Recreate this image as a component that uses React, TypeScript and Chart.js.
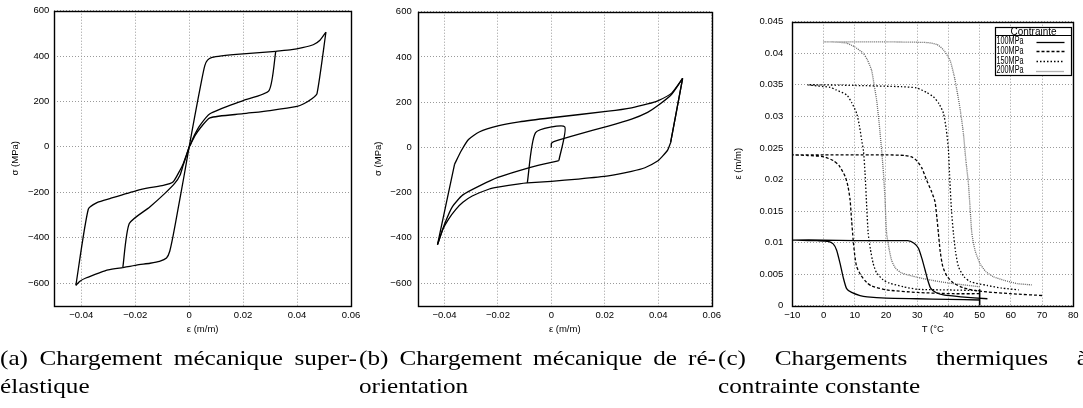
import React, { useEffect, useRef } from "react";
import { Chart, registerables } from "chart.js";

Chart.register(...registerables);

type P = [number, number];

// ---------- Panel (a): super-elastic mechanical loading (strain, stress MPa) ----------
const aLoadPos: P[] = [[0, 0], [0.002, 130], [0.0046, 292], [0.0058, 358], [0.0068, 382], [0.0085, 394], [0.012, 401], [0.02, 410], [0.0321, 421]];
const aUnloadPartialPos: P[] = [[0.0321, 421], [0.0296, 248], [0.02, 204], [0.0077, 146], [0.004, 95], [0.0021, 55], [0.0005, 12], [0, 0]];
const aLoadNeg: P[] = [[0, 0], [-0.002, -135], [-0.0042, -279], [-0.006, -395], [-0.0072, -460], [-0.0084, -490], [-0.011, -505], [-0.0145, -513], [-0.0195, -521], [-0.0246, -532]];
const aUnloadPartialNeg: P[] = [[-0.0246, -532], [-0.0222, -338], [-0.0146, -265], [-0.009, -205], [-0.0053, -160], [-0.0034, -125], [-0.0022, -80], [-0.001, -38], [0, 0]];
const aLoadPosFull: P[] = [[0.0321, 421], [0.038, 428], [0.042, 437], [0.046, 450], [0.0485, 470], [0.0507, 505]];
const aUnloadFullPos: P[] = [[0.0507, 505], [0.0474, 235], [0.0455, 212], [0.0425, 190], [0.04, 178], [0.03, 160], [0.02, 146], [0.0077, 128], [0.004, 81], [0.0021, 48], [0.0005, 10], [0, 0]];
const aLoadNegFull: P[] = [[-0.0246, -532], [-0.03, -542], [-0.0333, -555], [-0.0383, -578], [-0.0405, -592], [-0.042, -610]];
const aUnloadFullNeg: P[] = [[-0.042, -610], [-0.0374, -275], [-0.034, -245], [-0.0294, -228], [-0.0195, -193], [-0.0146, -180], [-0.0096, -170], [-0.006, -155], [-0.0034, -103], [-0.0022, -74], [-0.001, -35], [0, 0]];

// ---------- Panel (b): re-orientation mechanical loading ----------
const bLoadMiddle: P[] = [[0, 0], [0, 17], [0.0009, 26], [0.01, 58], [0.0213, 94], [0.03, 125], [0.036, 155], [0.04, 186], [0.045, 235], [0.0491, 305]];
const bUnloadSteep: P[] = [[0.0491, 305], [0.0446, 21]];
const bLowerBranch: P[] = [[0.0446, 21], [0.0435, -12], [0.0415, -40], [0.0399, -59], [0.035, -90], [0.03, -106], [0.0213, -126], [0.01, -140], [0, -150], [-0.009, -157], [-0.012, -161], [-0.02, -176], [-0.0232, -184], [-0.0296, -215], [-0.0331, -243], [-0.0358, -275], [-0.0385, -318], [-0.0405, -360], [-0.0426, -430]];
const bSteepUp: P[] = [[-0.0426, -430], [-0.0362, -74]];
const bUpperBranch: P[] = [[-0.0362, -74], [-0.0337, -15], [-0.031, 35], [-0.027, 68], [-0.02, 95], [-0.012, 113], [0, 131], [0.0213, 160], [0.03, 175], [0.036, 192], [0.04, 207], [0.045, 240], [0.0491, 305]];
const bSmallLoop: P[] = [[-0.009, -157], [-0.0059, 65], [0.005, 91], [0.0028, -59]];
const bMiddleNeg: P[] = [[0.0028, -59], [-0.005, -80], [-0.012, -103], [-0.02, -133], [-0.0265, -168], [-0.0331, -210], [-0.037, -262], [-0.0399, -338], [-0.0426, -430]];

// ---------- Panel (c): thermal loading at constant stress (T °C, strain) ----------
const cInitialLoad: P[] = [[50, 0], [50, 0.0026]];
const c100Solid: P[] = [[50, 0.0009], [40, 0.001], [30, 0.0011], [20, 0.0012], [14, 0.0014], [11.7, 0.0016], [9, 0.0021], [7.4, 0.0027], [6.3, 0.0045], [5.3, 0.0067], [4.2, 0.0088], [3.1, 0.0098], [1.5, 0.0102], [-2, 0.0103], [-10, 0.0104], [0, 0.0104], [10, 0.0103], [27, 0.0103], [29, 0.0099], [30.4, 0.0091], [31.5, 0.0075], [32.5, 0.0057], [33.3, 0.0042], [34.3, 0.0028], [36, 0.0021], [38.4, 0.0017], [44, 0.0014], [52.5, 0.0011]];
const c100Dashed: P[] = [[50, 0.0019], [41.6, 0.0019], [30, 0.0021], [20.2, 0.0025], [15.5, 0.0031], [13.8, 0.0037], [12, 0.0048], [10.6, 0.0062], [10, 0.008], [9.5, 0.0104], [9, 0.0135], [8.5, 0.0168], [7.8, 0.019], [6.9, 0.0205], [5, 0.0222], [3.1, 0.023], [0, 0.0236], [-5, 0.0238], [-10, 0.0239], [0, 0.0239], [20, 0.0239], [26, 0.0238], [28.5, 0.0235], [30, 0.0229], [31.5, 0.0218], [33, 0.0199], [34.5, 0.0182], [35.7, 0.0165], [36.3, 0.014], [36.8, 0.0115], [37.4, 0.0085], [38.2, 0.0062], [39.5, 0.0047], [41.6, 0.0036], [45, 0.0028], [50, 0.0023], [60, 0.0019], [70.5, 0.0016]];
const c150Dotted: P[] = [[50, 0.0024], [40, 0.0025], [30, 0.0026], [25.6, 0.003], [21, 0.0036], [19.1, 0.0041], [17, 0.0052], [15.9, 0.0067], [15, 0.009], [14.3, 0.0115], [13.8, 0.016], [13.3, 0.021], [12.8, 0.0245], [12.2, 0.0263], [11.5, 0.0285], [10.6, 0.0305], [9, 0.0322], [7.4, 0.0334], [4, 0.0342], [2.1, 0.0346], [-5, 0.035], [10, 0.0349], [25, 0.0347], [29.8, 0.0345], [33, 0.0338], [35.2, 0.0331], [37, 0.032], [38.4, 0.0305], [39.3, 0.028], [40, 0.0247], [40.5, 0.0194], [41, 0.015], [41.6, 0.0115], [42.3, 0.0085], [43.2, 0.0062], [45, 0.0046], [47, 0.0038], [52.5, 0.0032], [57, 0.0028], [62.5, 0.0025]];
const c200Fine: P[] = [[50, 0.003], [40, 0.0036], [35, 0.004], [30, 0.0045], [25, 0.0052], [23, 0.006], [21.8, 0.0072], [21, 0.009], [20.2, 0.0115], [19.7, 0.0168], [19.2, 0.021], [18.6, 0.0247], [17.8, 0.029], [17, 0.0326], [16.2, 0.035], [15.4, 0.0373], [14, 0.039], [12.7, 0.04], [10, 0.041], [7.4, 0.0416], [3, 0.0418], [0.2, 0.0418], [20, 0.0418], [33, 0.0417], [36.3, 0.0414], [38.5, 0.0405], [40.5, 0.0389], [41.8, 0.0365], [42.7, 0.0342], [43.8, 0.031], [44.8, 0.0273], [45.6, 0.023], [46.4, 0.0194], [47, 0.015], [47.5, 0.0115], [48.5, 0.0088], [50.1, 0.0067], [52, 0.0054], [54.4, 0.0046], [58, 0.004], [62, 0.0035], [66.7, 0.0033]];

// ---------- Ticks and labels ----------
const strainTicksAB = [-0.04, -0.02, 0, 0.02, 0.04, 0.06];
const strainTickLabelsAB = ["\u22120.04", "\u22120.02", "0", "0.02", "0.04", "0.06"];
const stressTicks = [-600, -400, -200, 0, 200, 400, 600];
const stressTickLabels = ["\u2212600", "\u2212400", "\u2212200", "0", "200", "400", "600"];
const tempTicks = [-10, 0, 10, 20, 30, 40, 50, 60, 70, 80];
const tempTickLabels = ["\u221210", "0", "10", "20", "30", "40", "50", "60", "70", "80"];
const strainTicksC = [0, 0.005, 0.01, 0.015, 0.02, 0.025, 0.03, 0.035, 0.04, 0.045];
const strainTickLabelsC = ["0", "0.005", "0.01", "0.015", "0.02", "0.025", "0.03", "0.035", "0.04", "0.045"];
const legendTitle = "Contrainte";
const seriesLabels = ["100MPa", "100MPa", "150MPa", "200MPa"];

const captionA = ["(a) Chargement mécanique super-", "élastique"];
const captionB = ["(b) Chargement mécanique de ré-", "orientation"];
const captionC = ["(c) Chargements thermiques à", "contrainte constante"];

const SANS = "'Liberation Sans', Arial, Helvetica, sans-serif";
Chart.defaults.font.family = SANS;
Chart.defaults.color = "#000";

const toXY = (arr: P[]) => arr.map(([x, y]) => ({ x, y }));

const framePlugin = {
  id: "frame",
  afterDraw(chart: any) {
    const { ctx, chartArea: ca } = chart;
    ctx.save();
    ctx.strokeStyle = "#000";
    ctx.lineWidth = 1.4;
    ctx.strokeRect(Math.round(ca.left) + 0.5, Math.round(ca.top) + 0.5, Math.round(ca.right - ca.left), Math.round(ca.bottom - ca.top));
    ctx.restore();
  },
};

function axis(opts: {
  min: number; max: number; ticks: number[]; labels: string[]; size: number; horizontal: boolean;
  title: string; titlePad: number; tickPad: number;
}) {
  return {
    type: "linear",
    min: opts.min,
    max: opts.max,
    afterBuildTicks: (s: any) => { s.ticks = opts.ticks.map((v) => ({ value: v })); },
    afterFit: (s: any) => { if (opts.horizontal) s.height = opts.size; else s.width = opts.size; },
    grid: { color: "#9a9a9a", lineWidth: 1, drawTicks: false },
    border: { display: false, dash: [1, 2] },
    ticks: {
      padding: opts.tickPad,
      autoSkip: false,
      maxRotation: 0,
      font: { size: 9.5 },
      color: "#000",
      callback: (_v: any, i: number) => opts.labels[i],
    },
    title: {
      display: true,
      text: opts.title,
      color: "#000",
      font: { size: 9.5 },
      padding: opts.horizontal ? { top: 0, bottom: opts.titlePad } : { top: opts.titlePad, bottom: 0 },
    },
  };
}

function lineDs(arr: P[], extra: any = {}) {
  return {
    data: toXY(arr),
    showLine: true,
    borderColor: "#000",
    borderWidth: 1.3,
    pointRadius: 0,
    tension: 0.2,
    fill: false,
    ...extra,
  };
}

const legendPlugin = {
  id: "boxLegend",
  afterDraw(chart: any) {
    const { ctx, chartArea: ca } = chart;
    const left = Math.round(ca.right - 78) + 0.5;
    const top = Math.round(ca.top + 5) + 0.5;
    const w = 76, h = 48;
    ctx.save();
    ctx.fillStyle = "#fff";
    ctx.fillRect(left, top, w, h);
    ctx.strokeStyle = "#000";
    ctx.lineWidth = 1.2;
    ctx.strokeRect(left, top, w, h);
    ctx.beginPath();
    ctx.moveTo(left, top + 8);
    ctx.lineTo(left + w, top + 8);
    ctx.stroke();
    ctx.fillStyle = "#000";
    ctx.font = "10px " + SANS;
    ctx.textAlign = "center";
    ctx.textBaseline = "middle";
    ctx.fillText(legendTitle, left + w / 2, top + 4.3, 46);
    const styles = [chart.data.datasets[1], chart.data.datasets[2], chart.data.datasets[3], chart.data.datasets[4]];
    seriesLabels.forEach((lab, i) => {
      const y = top + 14.2 + i * 9.6;
      ctx.textAlign = "left";
      ctx.fillStyle = "#000";
      ctx.fillText(lab, left + 1, y, 27);
      const ds = styles[i];
      ctx.save();
      ctx.strokeStyle = ds.borderColor;
      ctx.lineWidth = ds.borderWidth;
      ctx.setLineDash(ds.borderDash || []);
      ctx.beginPath();
      ctx.moveTo(left + 41, Math.round(y) + 0.5);
      ctx.lineTo(left + 69, Math.round(y) + 0.5);
      ctx.stroke();
      ctx.restore();
    });
    ctx.restore();
  },
};

function baseOptions(padding: any, scales: any) {
  return {
    animation: false,
    responsive: false,
    events: [],
    layout: { padding },
    plugins: { legend: { display: false }, tooltip: { enabled: false } },
    scales,
  };
}

const CW = 365;
const CH = 345;

function Panel({ left, config }: { left: number; config: () => any }) {
  const ref = useRef<HTMLCanvasElement | null>(null);
  useEffect(() => {
    if (!ref.current) return;
    const chart = new Chart(ref.current, config());
    return () => chart.destroy();
  }, []);
  return (
    <canvas
      ref={ref}
      width={CW}
      height={CH}
      style={{ position: "absolute", left, top: 0, width: CW, height: CH }}
    />
  );
}

const configA = () => ({
  type: "scatter",
  data: {
    datasets: [aLoadPos, aUnloadPartialPos, aLoadNeg, aUnloadPartialNeg, aLoadPosFull, aUnloadFullPos, aLoadNegFull, aUnloadFullNeg].map((d) => lineDs(d)),
  },
  options: baseOptions({ left: 0, right: 14, top: 10, bottom: 0 }, {
    x: axis({ min: -0.05, max: 0.06, ticks: strainTicksAB, labels: strainTickLabelsAB, size: CH - 305.7, horizontal: true, title: "ε (m/m)", titlePad: 9.6, tickPad: 4 }),
    y: axis({ min: -700, max: 600, ticks: stressTicks, labels: stressTickLabels, size: 54.3, horizontal: false, title: "σ (MPa)", titlePad: 9.6, tickPad: 5 }),
  }),
  plugins: [framePlugin],
});

const configB = () => ({
  type: "scatter",
  data: {
    datasets: [bLoadMiddle, bUnloadSteep, bLowerBranch, bSteepUp, bUpperBranch, bUnloadSteep, bSmallLoop, bMiddleNeg].map((d) => lineDs(d)),
  },
  options: baseOptions({ left: 0, right: CW - (714.3 - 360), top: 10, bottom: 0 }, {
    x: axis({ min: -0.05, max: 0.06, ticks: strainTicksAB, labels: strainTickLabelsAB, size: CH - 305.7, horizontal: true, title: "ε (m/m)", titlePad: 9.6, tickPad: 4 }),
    y: axis({ min: -700, max: 600, ticks: stressTicks, labels: stressTickLabels, size: 417.7 - 360, horizontal: false, title: "σ (MPa)", titlePad: 12.9, tickPad: 6 }),
  }),
  plugins: [framePlugin],
});

const configC = () => ({
  type: "scatter",
  data: {
    datasets: [
      lineDs(cInitialLoad, { tension: 0, borderWidth: 1.6 }),
      lineDs(c100Solid, { label: seriesLabels[0] }),
      lineDs(c100Dashed, { label: seriesLabels[1], borderDash: [3, 2] }),
      lineDs(c150Dotted, { label: seriesLabels[2], borderDash: [1.5, 2] }),
      lineDs(c200Fine, { label: seriesLabels[3], borderDash: [1, 1], borderColor: "#666" }),
    ],
  },
  options: baseOptions({ left: 0, right: CW - (1073.3 - 718), top: 21.7, bottom: 0 }, {
    x: axis({ min: -10, max: 80, ticks: tempTicks, labels: tempTickLabels, size: CH - 305.7, horizontal: true, title: "T (°C", titlePad: 9.6, tickPad: 4 }),
    y: axis({ min: 0, max: 0.045, ticks: strainTicksC, labels: strainTickLabelsC, size: 792.3 - 718, horizontal: false, title: "ε (m/m)", titlePad: 14.9, tickPad: 9 }),
  }),
  plugins: [framePlugin, legendPlugin],
});

const SX = 1.2;
const capFont: React.CSSProperties = {
  position: "absolute",
  fontFamily: "'Liberation Serif', 'Times New Roman', serif",
  fontSize: 21,
  lineHeight: "28px",
  color: "#000",
  transform: `scaleX(${SX})`,
  transformOrigin: "0 0",
};

function Caption({ left, width, lines }: { left: number; width: number; lines: string[] }) {
  return (
    <>
      <div style={{ ...capFont, left, top: 343.9, width: width / SX, textAlign: "justify", textAlignLast: "justify" as any, whiteSpace: "normal" }}>
        {lines[0]}
      </div>
      <div style={{ ...capFont, left, top: 371.9, whiteSpace: "nowrap" }}>{lines[1]}</div>
    </>
  );
}

export default function App() {
  return (
    <div style={{ position: "absolute", left: 0, top: 0, width: 1083, height: 408, overflow: "hidden", background: "#fff" }}>
      <Panel left={0} config={configA} />
      <Panel left={360} config={configB} />
      <Panel left={718} config={configC} />
      <Caption left={0} width={357} lines={captionA} />
      <Caption left={359} width={357} lines={captionB} />
      <Caption left={718} width={370} lines={captionC} />
    </div>
  );
}
